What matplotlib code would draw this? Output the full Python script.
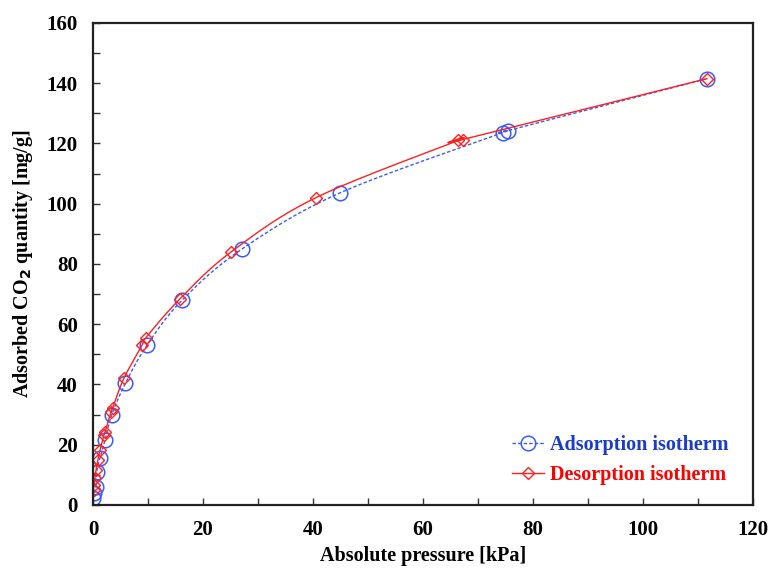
import numpy as np
import matplotlib
matplotlib.use("Agg")
import matplotlib.pyplot as plt
from matplotlib.ticker import MultipleLocator

# adsorption branch (pressure kPa, CO2 uptake mg/g)
ads_p = [0.06, 0.24, 0.55, 0.67, 1.27, 2.2, 3.4, 5.9, 9.8, 16.2, 27.1, 44.9, 74.5, 75.5, 111.6]
ads_q = [2.2, 3.9, 6.1, 11.0, 15.6, 21.6, 29.9, 40.4, 53.0, 68.0, 85.0, 103.6, 123.6, 124.3, 141.5]

# desorption branch
des_p = [111.6, 67.2, 66.4, 40.5, 25.1, 15.8, 9.6, 8.9, 5.6, 3.6, 3.3, 2.2, 2.0, 1.3, 0.9, 0.55, 0.35, 0.2, 0.1]
des_q = [141.5, 121.3, 121.0, 102.0, 84.0, 68.4, 55.5, 53.0, 42.0, 32.2, 31.0, 24.3, 23.3, 18.3, 15.0, 11.6, 9.0, 6.6, 5.0]


def smooth_line(x, y, n=20):
    # catmull-rom through the points, like the spreadsheet "smoothed line"
    x = np.asarray(x, float)
    y = np.asarray(y, float)
    px = np.concatenate([[x[0]], x, [x[-1]]])
    py = np.concatenate([[y[0]], y, [y[-1]]])
    t = np.linspace(0, 1, n, endpoint=False)
    xs, ys = [], []
    for i in range(1, len(px) - 2):
        for arr, out in ((px, xs), (py, ys)):
            p0, p1, p2, p3 = arr[i - 1], arr[i], arr[i + 1], arr[i + 2]
            out.extend(0.5 * (2 * p1 + (-p0 + p2) * t + (2 * p0 - 5 * p1 + 4 * p2 - p3) * t ** 2
                              + (-p0 + 3 * p1 - 3 * p2 + p3) * t ** 3))
    xs.append(x[-1])
    ys.append(y[-1])
    return xs, ys


plt.rcParams['font.family'] = ['Liberation Serif', 'DejaVu Serif']
plt.rcParams['font.weight'] = 'bold'

fig = plt.figure(figsize=(7.71, 5.69), dpi=100)
ax = fig.add_axes([0.1206, 0.1125, 0.8561, 0.8471])

blue = "#3a5cff"
red = "#ff2020"

sx, sy = smooth_line(ads_p, ads_q)
ax.plot(sx, sy, linestyle=(0, (2.5, 1.5)), color=blue, linewidth=1.0)
ax.plot(ads_p, ads_q, linestyle="none", marker="o", markersize=10.5, markerfacecolor="none",
        markeredgecolor=blue, markeredgewidth=1.1)
sx, sy = smooth_line(des_p, des_q)
ax.plot(sx, sy, linestyle="-", color=red, linewidth=1.0)
ax.plot(des_p, des_q, linestyle="none", marker="D", markersize=6, markerfacecolor="none",
        markeredgecolor=red, markeredgewidth=1.0)

# legend handles
ax.plot([], [], linestyle=(0, (2.5, 1.5)), color=blue, linewidth=1.0, marker="o", markersize=10.5,
        markerfacecolor="none", markeredgecolor=blue, markeredgewidth=1.1, label="Adsorption isotherm")
ax.plot([], [], linestyle="-", color=red, linewidth=1.0, marker="D", markersize=6,
        markerfacecolor="none", markeredgecolor=red, markeredgewidth=1.0, label="Desorption isotherm")

ax.set_xlim(0, 120)
ax.set_ylim(0, 160)
ax.xaxis.set_major_locator(MultipleLocator(20))
ax.xaxis.set_minor_locator(MultipleLocator(10))
ax.yaxis.set_major_locator(MultipleLocator(20))
ax.yaxis.set_minor_locator(MultipleLocator(10))
ax.tick_params(which="both", direction="in", length=5, width=1, labelsize=15, color="#333333")
ax.tick_params(axis="x", pad=11)
ax.tick_params(axis="y", pad=11)
for s in ax.spines.values():
    s.set_linewidth(1.6)
    s.set_color("#222222")

ax.set_xlabel("Absolute pressure [kPa]", fontsize=14.5, fontweight="bold", labelpad=4)
ax.set_ylabel("Adsorbed CO$_\\mathbf{2}$ quantity [mg/g]", fontsize=14.5, fontweight="bold", labelpad=8)

leg = ax.legend(loc="lower right", bbox_to_anchor=(0.99, 0.004), frameon=False,
                prop={"size": 14.5, "weight": "bold"}, handlelength=1.6, handletextpad=0.3,
                labelspacing=0.5)
leg.get_texts()[0].set_color("#1a3ccc")
leg.get_texts()[1].set_color("#ff0000")

fig.savefig("out.png", dpi=100)
